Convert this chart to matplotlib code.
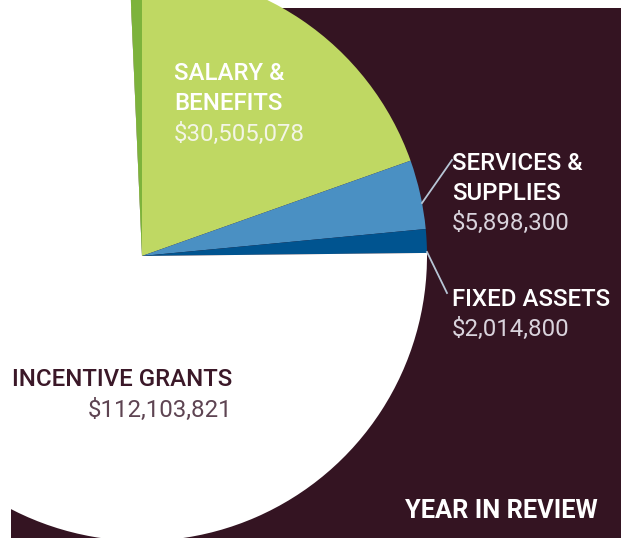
import matplotlib.pyplot as plt
from matplotlib.patches import Rectangle, Wedge

# budget items, drawn clockwise from the top
labels = ["SALARY &\nBENEFITS", "SERVICES &\nSUPPLIES", "FIXED ASSETS", "INCENTIVE GRANTS"]
amounts = [30505078, 5898300, 2014800, 112103821]
amount_text = ["$30,505,078", "$5,898,300", "$2,014,800", "$112,103,821"]
colors = ["#bfd863", "#4a90c3", "#005490", "#ffffff"]

BG = "#341422"
FONT = ["Roboto", "DejaVu Sans"]
LINE = 30  # px between text lines

def label(ax, x, y, title, amount, tcol, acol, ha="left"):
	# y is pixel row (from top) of the first line
	lines = title.split("\n")
	for i, s in enumerate(lines):
		ax.text(x, 538-(y+i*LINE), s, ha=ha, va="center", family=FONT, fontsize=17.3,
			fontweight="medium", color=tcol, zorder=4)
	ax.text(x, 538-(y+len(lines)*LINE), amount, ha=ha, va="center", family=FONT,
		fontsize=17.3, fontweight="normal", color=acol, zorder=4)

def main():
	fig = plt.figure(figsize=(6.21, 5.38), dpi=100)
	ax = fig.add_axes([0, 0, 1, 1])

	panel = Rectangle((11, 0), 610, 530, facecolor=BG, edgecolor="none", zorder=0)
	ax.add_patch(panel)

	wedges, _ = ax.pie(amounts, colors=colors, startangle=92.5, counterclock=False,
		center=(142, 282), radius=285, frame=True,
		wedgeprops=dict(linewidth=0))
	ax.set_xlim(0, 621)
	ax.set_ylim(0, 538)
	ax.set_aspect("equal")
	ax.axis("off")
	for w in wedges:
		w.set_clip_path(panel)

	# darker side strip on the salary slice
	top = max(wedges[0].theta1, wedges[0].theta2)
	side = Wedge((142, 282), 285, 90, top, facecolor="#7db33c", edgecolor="none", zorder=2)
	side.set_clip_path(panel)
	ax.add_patch(side)

	# leader lines
	ax.plot([422, 452], [538-203, 538-160], color="#b7c6d6", lw=1.3, zorder=3)
	ax.plot([427, 447], [538-252, 538-293], color="#b7c6d6", lw=1.3, zorder=3)

	label(ax, 174, 74, labels[0], amount_text[0], "white", "#f3f5e6")
	label(ax, 452, 163, labels[1], amount_text[1], "white", "#d9d3dc")
	label(ax, 452, 299, labels[2], amount_text[2], "white", "#d9d3dc")
	label(ax, 232, 380, labels[3], amount_text[3], "#3b1828", "#5e4452", ha="right")

	ax.text(598, 538-511, "YEAR IN REVIEW", ha="right", va="center", family=FONT,
		fontsize=18.3, fontweight="bold", color="white", zorder=4)

	plt.savefig("out.png", dpi=100, facecolor="white")
	plt.close(fig)

if __name__ == "__main__":
	main()
